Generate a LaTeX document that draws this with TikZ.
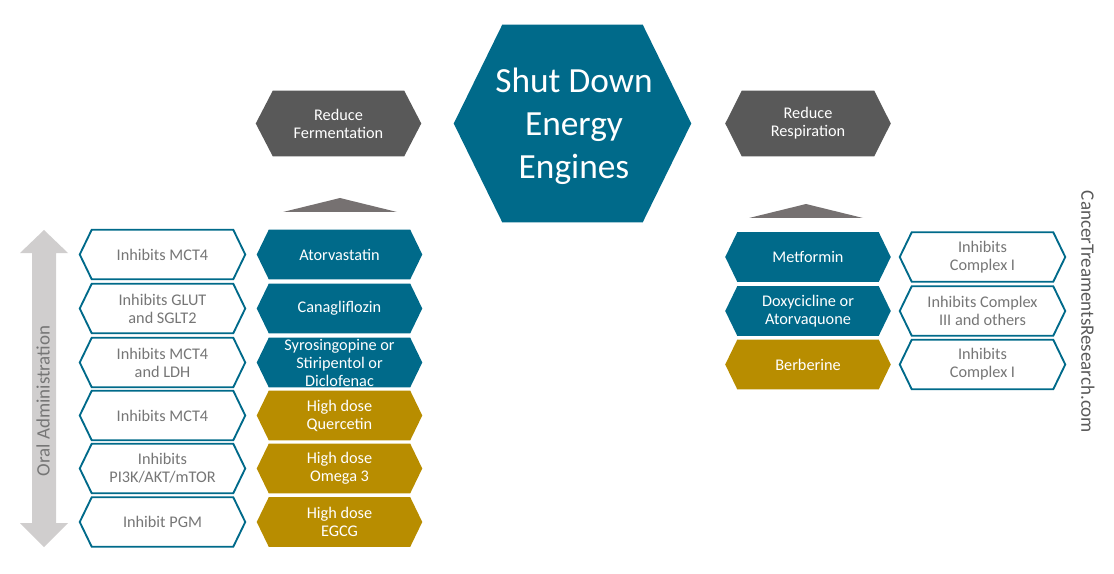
\documentclass[tikz,border=0pt]{standalone}
\usepackage{fontspec}
\setmainfont{Carlito}
\usetikzlibrary{calc,backgrounds}
\definecolor{teal1}{RGB}{0,106,138}
\definecolor{gold1}{RGB}{184,141,0}
\definecolor{dgray}{RGB}{89,89,89}
\definecolor{tgray}{RGB}{118,113,113}
\definecolor{agray}{RGB}{208,206,206}
\definecolor{txtgray}{RGB}{118,118,118}
\newcommand{\hexshape}[3]{%
  \begin{scope}[on background layer]
    \path[#3] (#1.west) -- ($(#1.north west)+(#2,0)$) -- ($(#1.north east)+(-#2,0)$) -- (#1.east) -- ($(#1.south east)+(-#2,0)$) -- ($(#1.south west)+(#2,0)$) -- cycle;
  \end{scope}}
\tikzset{
  small/.style={font=\fontsize{12.2}{13.5}\selectfont, align=center, inner sep=0pt, minimum width=123.75pt, minimum height=36.75pt},
  wbox/.style={small, text=txtgray},
  cbox/.style={small, text=white},
  gbox/.style={small, text=white, minimum height=48.75pt},
  whex/.style={fill=white, draw=teal1, line width=1.4pt, line join=miter},
  thex/.style={fill=teal1},
  ghex/.style={fill=gold1},
  dhex/.style={fill=dgray},
  side/.style={font=\fontsize{14.25}{17}\selectfont, inner sep=0pt}
}
\begin{document}
\begin{tikzpicture}[x=0.75pt,y=-0.75pt]
\useasboundingbox (0,0) rectangle (1114,574);

% central hexagon
\node[inner sep=0pt, minimum width=177.75pt, minimum height=147.75pt] (core) at (572.5,123.5) {};
\hexshape{core}{48.5}{thex}
\node[font=\fontsize{26.5}{32.25}\selectfont, text=white, align=center, inner sep=0pt] (coretext) at (574,126.5) {Shut Down\\Energy\\Engines};

% category hexagons
\node[gbox] (ferm) at (338.5,123.5) {Reduce\\Fermentation};
\node[gbox] (resp) at (808,123.5) {Reduce\\Respiration};
\hexshape{ferm}{17}{dhex}
\hexshape{resp}{16.5}{dhex}

% small triangles
\fill[tgray] (283,212) -- (340,198) -- (397,212) -- cycle;
\fill[tgray] (749,218) -- (806,204) -- (863,218) -- cycle;

% left: mechanisms
\node[wbox] (i1) at (162.5,254.5) {Inhibits MCT4};
\node[wbox] (i2) at (162.5,308.5) {Inhibits GLUT\\and SGLT2};
\node[wbox] (i3) at (162.5,362.5) {Inhibits MCT4\\and LDH};
\node[wbox] (i4) at (162.5,415.5) {Inhibits MCT4};
\node[wbox] (i5) at (162.5,468.5) {Inhibits\\PI3K/AKT/mTOR};
\node[wbox] (i6) at (162.5,522) {Inhibit PGM};
\foreach \n in {i1,i2,i3,i4,i5,i6} {\hexshape{\n}{12}{whex}}

% left: drugs
\node[cbox] (d1) at (339.5,254.5) {Atorvastatin};
\node[cbox] (d2) at (339.5,308.5) {Canagliflozin};
\node[cbox] (d3) at (339.5,362.5) {Syrosingopine or\\Stiripentol or\\Diclofenac};
\node[cbox] (d4) at (339.5,415.5) {High dose\\Quercetin};
\node[cbox] (d5) at (339.5,468.5) {High dose\\Omega 3};
\node[cbox] (d6) at (339.5,522) {High dose\\EGCG};
\foreach \n in {d1,d2,d3} {\hexshape{\n}{12}{thex}}
\foreach \n in {d4,d5,d6} {\hexshape{\n}{12}{ghex}}

% right: drugs
\node[cbox] (m1) at (808,257) {Metformin};
\node[cbox] (m2) at (808,311) {Doxycicline or\\Atorvaquone};
\node[cbox] (m3) at (808,364.5) {Berberine};
\foreach \n in {m1,m2} {\hexshape{\n}{12}{thex}}
\hexshape{m3}{12}{ghex}

% right: mechanisms
\node[wbox] (r1) at (982.5,257) {Inhibits\\Complex I};
\node[wbox] (r2) at (982.5,311) {Inhibits Complex\\III and others};
\node[wbox] (r3) at (982.5,364.5) {Inhibits\\Complex I};
\foreach \n in {r1,r2,r3} {\hexshape{\n}{12}{whex}}

% oral administration arrow
\fill[agray] (44,230) -- (68,253) -- (56,253) -- (56,523) -- (68,523) -- (44,547) -- (20,523) -- (32,523) -- (32,253) -- (20,253) -- cycle;
\node[side, text=txtgray, rotate=90] (oral) at (43,401) {Oral Administration};

% watermark
\node[side, text=dgray, rotate=-90] (wm) at (1088,312) {CancerTreamentsResearch.com};
\end{tikzpicture}
\end{document}
